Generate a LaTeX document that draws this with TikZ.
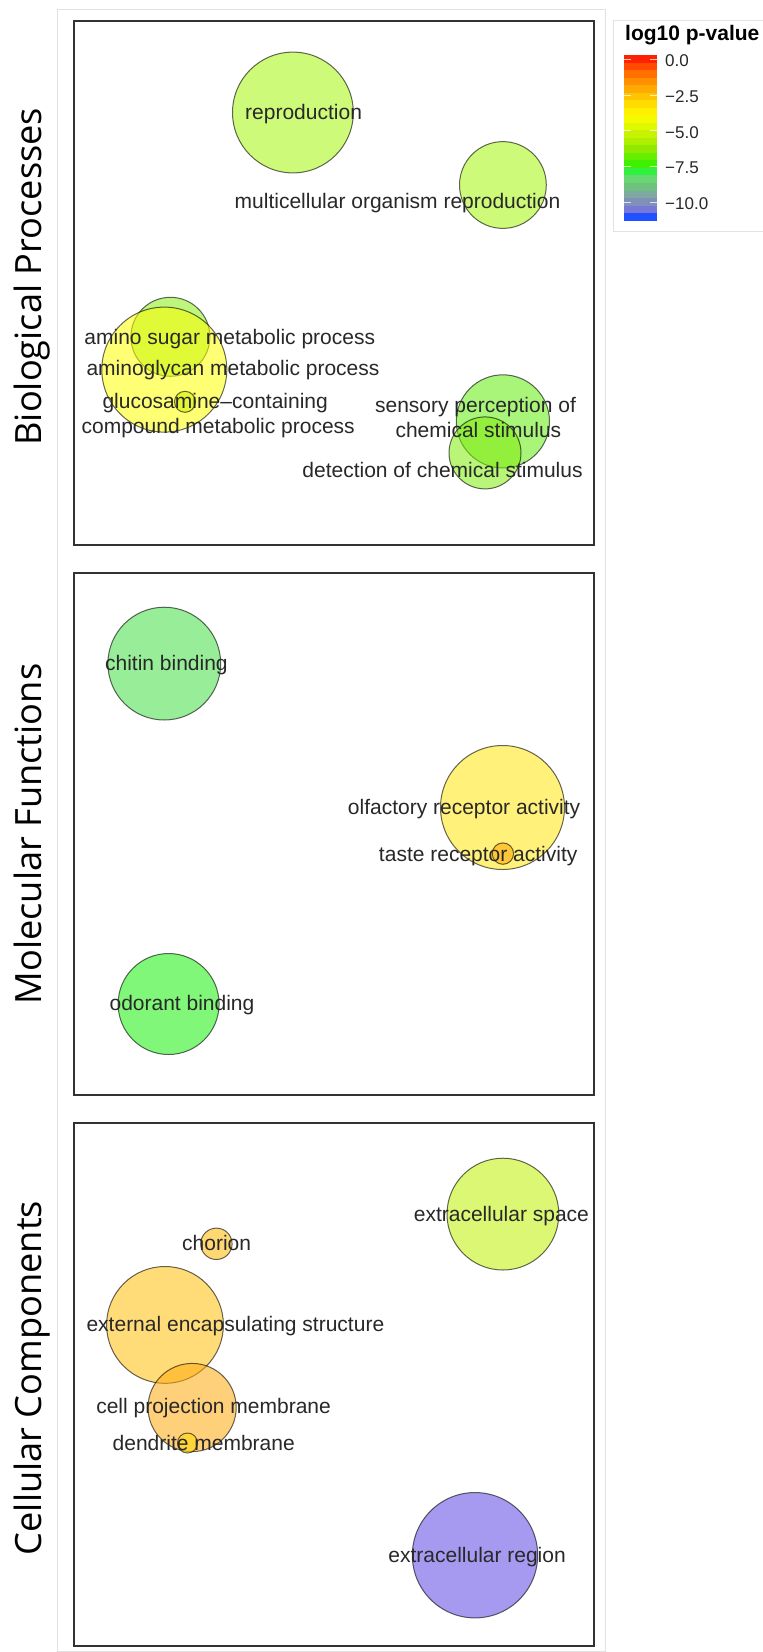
\documentclass[tikz,border=0pt]{standalone}
\usepackage{fontspec}
\setmainfont{Liberation Sans}
\newfontfamily\axisfont{Open Sans}
\definecolor{framegrey}{RGB}{226,226,226}
\definecolor{boxgrey}{RGB}{50,50,50}
\definecolor{txt}{RGB}{40,40,40}
% bubble colours
\definecolor{cRep}{RGB}{164,246,10}
\definecolor{cMulti}{RGB}{164,246,10}
\definecolor{cAmino}{RGB}{137,237,19}
\definecolor{cAminog}{RGB}{255,255,0}
\definecolor{cGluc}{RGB}{210,240,0}
\definecolor{cSens}{RGB}{97,237,13}
\definecolor{cDet}{RGB}{128,237,10}
\definecolor{cChitin}{RGB}{68,224,68}
\definecolor{cOlf}{RGB}{255,231,13}
\definecolor{cTaste}{RGB}{255,165,0}
\definecolor{cOdor}{RGB}{24,242,10}
\definecolor{cExSp}{RGB}{193,242,0}
\definecolor{cChor}{RGB}{255,184,0}
\definecolor{cExEnc}{RGB}{255,192,10}
\definecolor{cCell}{RGB}{255,170,13}
\definecolor{cDend}{RGB}{255,220,0}
\definecolor{cExReg}{RGB}{93,71,228}
% colour bar bands
\definecolor{b1}{RGB}{255,34,0}
\definecolor{b2}{RGB}{255,74,0}
\definecolor{b3}{RGB}{255,112,0}
\definecolor{b4}{RGB}{255,142,0}
\definecolor{b5}{RGB}{255,170,0}
\definecolor{b6}{RGB}{255,196,0}
\definecolor{b7}{RGB}{255,221,0}
\definecolor{b8}{RGB}{255,240,0}
\definecolor{b9}{RGB}{246,250,0}
\definecolor{b10}{RGB}{224,248,0}
\definecolor{b11}{RGB}{200,242,0}
\definecolor{b12}{RGB}{176,238,0}
\definecolor{b13}{RGB}{144,234,0}
\definecolor{b14}{RGB}{102,238,0}
\definecolor{b15}{RGB}{64,240,0}
\definecolor{b16}{RGB}{48,240,64}
\definecolor{b17}{RGB}{102,216,112}
\definecolor{b18}{RGB}{112,192,128}
\definecolor{b19}{RGB}{127,168,160}
\definecolor{b20}{RGB}{128,144,184}
\definecolor{b21}{RGB}{120,120,216}
\definecolor{b22}{RGB}{32,80,255}
\tikzset{
  bubble/.style={circle, inner sep=0pt, minimum size=2*#1pt, draw=black, draw opacity=0.6, line width=1pt, fill opacity=0.55},
  lbl/.style={inner sep=0pt, yshift=-2.5pt, text=txt, text height=15pt, text depth=4.4pt, font=\fontsize{21}{25}\selectfont},
  panelbox/.style={draw=boxgrey, line width=2pt},
  axislbl/.style={inner sep=0pt, rotate=90, anchor=base, text=black, font=\axisfont\fontsize{36.2}{42}\selectfont},
  ticklbl/.style={inner sep=0pt, anchor=west, text=txt, font=\fontsize{17}{20}\selectfont},
}
\begin{document}
\begin{tikzpicture}[x=1pt,y=-1pt]
\useasboundingbox (0,0) rectangle (763,1652);
\clip (0,0) rectangle (763,1652);
\fill[white] (0,0) rectangle (763,1652);
% outer frame
\draw[framegrey, line width=1pt] (57,9.5) rectangle (605,1651);
% panels
\draw[panelbox] (73.6,21.4) rectangle (594,544.6);
\draw[panelbox] (73.6,572.5) rectangle (594,1095);
\draw[panelbox] (73.6,1123.4) rectangle (594,1646.3);
% axis titles
\node[axislbl] (bp) at (41.7,276.7) {Biological Processes};
\node[axislbl] (mf) at (41.7,834) {Molecular Functions};
\node[axislbl] (cc) at (41.7,1378) {Cellular Components};

% ---- Biological Processes bubbles
\node[bubble=60.4, fill=cRep] (cRep) at (292.9,112.5) {};
\node[bubble=43.4, fill=cMulti] (cMulti) at (502.9,185) {};
\node[bubble=39.5, fill=cAmino] (cAmino) at (170.4,336.8) {};
\node[bubble=62.5, fill=cAminog] (cAminog) at (164.3,369.6) {};
\node[bubble=10.5, fill=cGluc] (cGluc) at (185,401.8) {};
\node[bubble=46.6, fill=cSens] (cSens) at (502.9,421.4) {};
\node[bubble=36, fill=cDet] (cDet) at (485,452.9) {};
% ---- Molecular Functions bubbles
\node[bubble=56.4, fill=cChitin] (cChitin) at (164.3,663.6) {};
\node[bubble=62, fill=cOlf] (cOlf) at (502.5,807.5) {};
\node[bubble=10.7, fill=cTaste] (cTaste) at (502.9,853.6) {};
\node[bubble=50.5, fill=cOdor] (cOdor) at (168.6,1004) {};
% ---- Cellular Components bubbles
\node[bubble=55.9, fill=cExSp] (cExSp) at (502.9,1214.1) {};
\node[bubble=15.7, fill=cChor] (cChor) at (216.4,1243.8) {};
\node[bubble=58.4, fill=cExEnc] (cExEnc) at (165,1324.9) {};
\node[bubble=44.1, fill=cCell] (cCell) at (192.1,1407.5) {};
\node[bubble=10, fill=cDend] (cDend) at (187.5,1443) {};
\node[bubble=62.7, fill=cExReg] (cExReg) at (475,1555.2) {};

% ---- labels
\node[lbl] (lRep) at (303.6,112) {reproduction};
\node[lbl] (lMulti) at (397.5,200.7) {multicellular organism reproduction};
\node[lbl] (lAmino) at (229.8,336.4) {amino sugar metabolic process};
\node[lbl] (lAminog) at (233,367.9) {aminoglycan metabolic process};
\node[lbl] (lGlucA) at (215.2,400.7) {glucosamine–containing};
\node[lbl] (lGlucB) at (218.2,425.7) {compound metabolic process};
\node[lbl] (lSensA) at (475.5,404.6) {sensory perception of};
\node[lbl] (lSensB) at (478.4,429.6) {chemical stimulus};
\node[lbl] (lDet) at (442.5,469.6) {detection of chemical stimulus};
\node[lbl] (lChitin) at (166.4,663) {chitin binding};
\node[lbl] (lOlf) at (464.1,806.4) {olfactory receptor activity};
\node[lbl] (lTaste) at (478.2,853.6) {taste receptor activity};
\node[lbl] (lOdor) at (182,1003) {odorant binding};
\node[lbl] (lExSp) at (501.4,1213.4) {extracellular space};
\node[lbl] (lChor) at (216.6,1242.4) {chorion};
\node[lbl] (lExEnc) at (235.4,1323.4) {external encapsulating structure};
\node[lbl] (lCell) at (213.6,1405.2) {cell projection membrane};
\node[lbl] (lDend) at (203.75,1442.7) {dendrite membrane};
\node[lbl] (lExReg) at (477.1,1554.5) {extracellular region};

% ---- legend
\draw[framegrey, line width=1pt] (613.3,20.7) rectangle (800,231.7);
\node[inner sep=0pt, anchor=base west, text=black, font=\bfseries\fontsize{21}{25}\selectfont] (ltitle) at (625,40.7) {log10 p-value};
\foreach \c [count=\i from 0] in {b1,b2,b3,b4,b5,b6,b7,b8,b9,b10,b11,b12,b13,b14,b15,b16,b17,b18,b19,b20,b21,b22}{
  \fill[\c] (624,{55+\i*7.53}) rectangle (657.3,{55+(\i+1)*7.53+0.3});
}
\foreach \l [count=\k from 0] in {0.0,−2.5,−5.0,−7.5,−10.0}{
  \draw[white, opacity=0.75, line width=1pt] (624,{59.3+35.75*\k}) -- (631,{59.3+35.75*\k});
  \draw[white, opacity=0.75, line width=1pt] (650,{59.3+35.75*\k}) -- (657.3,{59.3+35.75*\k});
  \node[ticklbl] (tick\k) at (665,{60.8+35.75*\k}) {\l};
}
\end{tikzpicture}
\end{document}
